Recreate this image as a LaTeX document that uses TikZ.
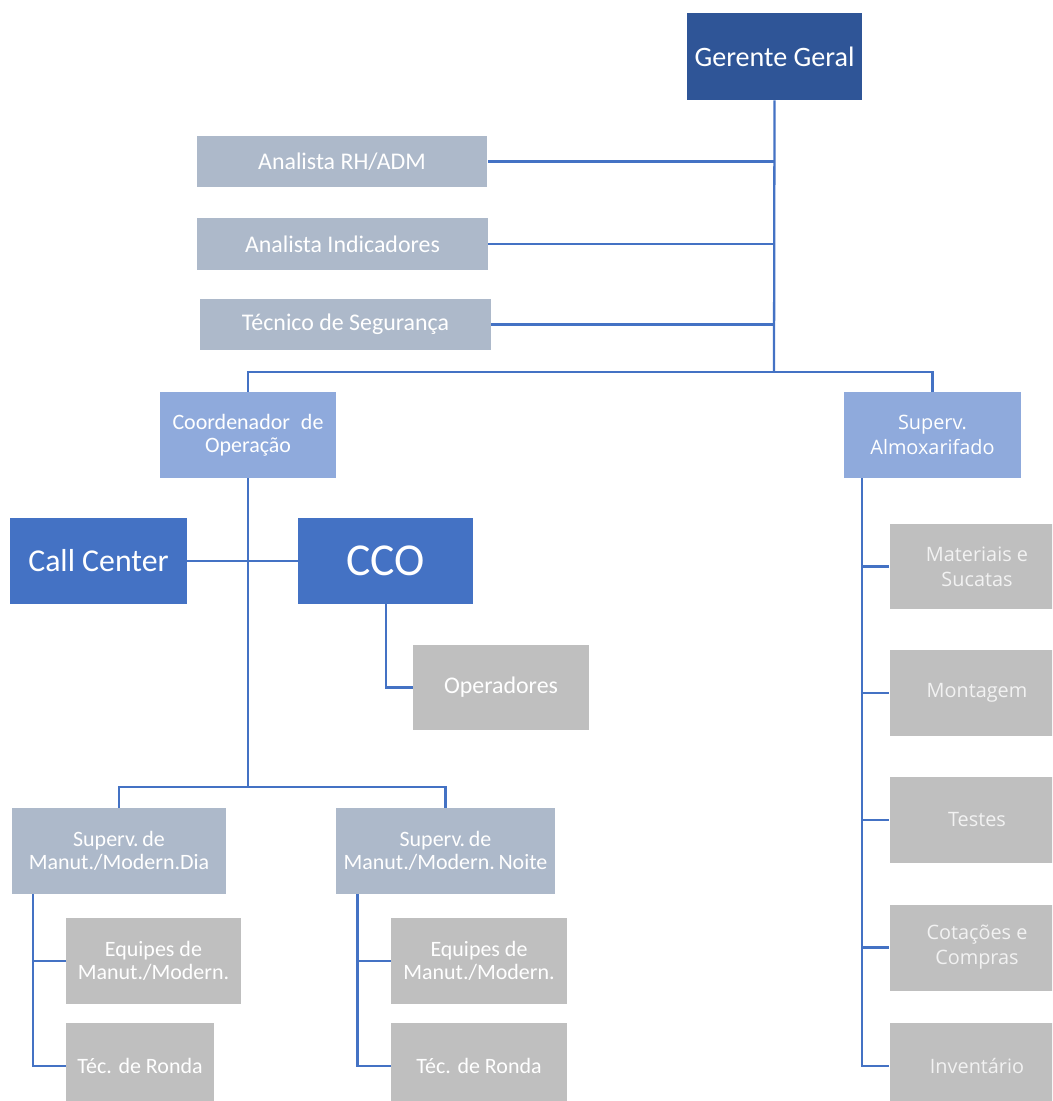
\documentclass[tikz,border=0pt]{standalone}
\usepackage{fontspec}
\setmainfont{Carlito}
\newfontfamily\almoxfont{Open Sans}
\usetikzlibrary{positioning}

\definecolor{chefe}{HTML}{2F5597}
\definecolor{apoio}{HTML}{ADB9CA}
\definecolor{coord}{HTML}{8FAADC}
\definecolor{central}{HTML}{4472C4}
\definecolor{equipe}{HTML}{BFBFBF}
\definecolor{linha}{HTML}{4472C4}

\tikzset{
  caixa/.style={rectangle, draw=none, text=white, align=center, inner sep=1pt,
    minimum width=3.5cm, minimum height=1.72cm, font=\fontsize{12.5}{13}\selectfont},
  gerente/.style={caixa, fill=chefe, minimum height=1.74cm, font=\fontsize{16}{18}\selectfont},
  staff/.style={caixa, fill=apoio, minimum width=5.82cm, minimum height=1.03cm, font=\fontsize{13.6}{15}\selectfont},
  coordbox/.style={caixa, fill=coord},
  centro/.style={caixa, fill=central},
  supbox/.style={caixa, fill=apoio},
  equipebox/.style={caixa, fill=equipe},
  almox/.style={caixa, fill=equipe, text=white!95!black, font=\almoxfont\fontsize{11.3}{14.3}\selectfont},
  liga/.style={draw=linha, line width=1.3pt}
}

\begin{document}
\begin{tikzpicture}[x=0.02cm, y=-0.02cm]

  \useasboundingbox[fill=white] (0,0) rectangle (1052,1101);
  \clip (0,0) rectangle (1052,1101);

  % Nodes

  \node[gerente] (gg) at (774.5,56.5) {Gerente Geral};
  \node[staff] (rh) at (342,161.5) {Analista RH/ADM};
  \node[staff] (ind) at (342.5,244) {Analista Indicadores};
  \node[staff] (tec) at (345.5,324.5) {Técnico de Segurança};

  \node[coordbox, minimum width=3.52cm] (co) at (248,435) {Coordenador\enspace de\\Operação};
  \node[coordbox, minimum width=3.54cm, font=\almoxfont\fontsize{11.3}{14.3}\selectfont] (sa) at (932.5,435) {Superv.\\Almoxarifado};

  \node[centro, font=\fontsize{18.1}{20}\selectfont, minimum width=3.54cm] (cc) at (98.5,561) {Call Center};
  \node[centro, font=\fontsize{26}{28}\selectfont] (cco) at (385.5,561) {CCO};
  \node[equipebox, font=\fontsize{13.6}{15}\selectfont, minimum width=3.52cm] (op) at (501,687.5) {Operadores};

  \node[supbox, minimum width=4.28cm] (sd) at (119,851) {Superv.\,de\\Manut./Modern.Dia};
  \node[supbox, minimum width=4.38cm] (sn) at (445.5,851) {Superv.\,de\\Manut./Modern.\,Noite};

  \node[equipebox] (ed) at (153.5,961) {Equipes de\\Manut./Modern.};
  \node[equipebox, minimum width=2.96cm] (rd) at (140,1066) {Téc. de Ronda};
  \node[equipebox, minimum width=3.52cm] (en) at (479,961) {Equipes de\\Manut./Modern.};
  \node[equipebox, minimum width=3.52cm] (rn) at (479,1066) {Téc. de Ronda};

  \node[almox] (ms) at (977,566.5) {Materiais e\\Sucatas};
  \node[almox, below=0.8cm of ms] (mt) {Montagem};
  \node[almox, below=0.8cm of mt] (ts) {Testes};
  \node[almox, below=0.82cm of ts] (cp) {Cotações e\\Compras};
  \node[almox, below=0.64cm of cp] (iv) {Inventário};

  % Edges

  \draw[liga] (gg.south) -- (774,372);
  \draw[liga] (rh.east) -- (774,161.5);
  \draw[liga] (ind.east) -- (774,244);
  \draw[liga] (tec.east) -- (774,324.5);
  \draw[liga] (co.north) -- (248,372) -| (sa.north);

  \draw[liga] (co.south) -- (248,787);
  \draw[liga] (cc.east) -- (cco.west);
  \draw[liga] (cco.south -| 386,0) |- (op.west);
  \draw[liga] (sd.north) |- (248,787) -| (sn.north);

  \draw[liga] (sd.south -| 33,0) |- (rd.west);
  \draw[liga] (33,961) -- (ed.west);
  \draw[liga] (sn.south -| 357.5,0) |- (rn.west);
  \draw[liga] (357.5,961) -- (en.west);

  \draw[liga] (sa.south -| 862,0) |- (iv.west);
  \draw[liga] (862,0 |- ms.west) -- (ms.west);
  \draw[liga] (862,0 |- mt.west) -- (mt.west);
  \draw[liga] (862,0 |- ts.west) -- (ts.west);
  \draw[liga] (862,0 |- cp.west) -- (cp.west);

\end{tikzpicture}
\end{document}
